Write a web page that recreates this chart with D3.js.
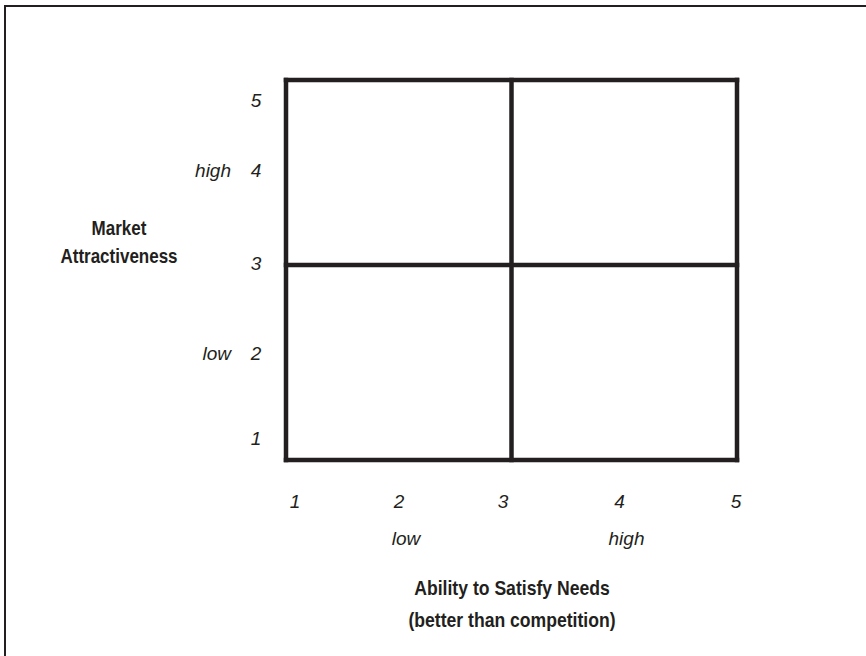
<!DOCTYPE html>
<html>
<head>
<meta charset="utf-8">
<script src="https://cdn.jsdelivr.net/npm/d3@7"></script>
<style>
  body { margin: 0; background: #fff; }
  svg { display: block; }
  .num { font-family: "Liberation Sans", Arial, sans-serif; font-style: italic; font-size: 19px; fill: #231f20; }
  .ttl { font-family: "Liberation Sans", Arial, sans-serif; font-weight: bold; font-size: 20px; fill: #231f20; }
</style>
</head>
<body>
<svg id="chart" width="866" height="656"></svg>
<script>
// chart content
const xTicks = [1, 2, 3, 4, 5];
const yTicks = [1, 2, 3, 4, 5];
const gridBreaks = [1, 3, 5];
const xLevels = [{ v: 2, label: "low" }, { v: 4, label: "high" }];
const yLevels = [{ v: 2, label: "low" }, { v: 4, label: "high" }];
const yTitle = ["Market", "Attractiveness"];
const xTitle = ["Ability to Satisfy Needs", "(better than competition)"];

const svg = d3.select("#chart");
const ink = "#231f20";

// frame round the whole figure
svg.append("rect")
  .attr("x", 5).attr("y", 6)
  .attr("width", 866).attr("height", 700)
  .attr("fill", "none").attr("stroke", ink).attr("stroke-width", 2);

// scales for the grid
var x = d3.scaleLinear().domain([1, 3, 5]).range([286, 511.5, 737]);
var y = d3.scaleLinear().domain([1, 3, 5]).range([460, 265, 80]);

// scales for the tick labels (set a bit off the grid, as in the print)
var xl = d3.scaleLinear().domain([1, 3, 5]).range([295, 503, 736]);
var yl = d3.scaleLinear().domain([1, 2, 3, 4, 5]).range([445, 360, 270, 177, 107]);

// grid: 2x2 boxes
var grid = svg.append("g")
  .attr("stroke", ink)
  .attr("stroke-width", 4.5)
  .attr("fill", "none");

grid.selectAll("line.v")
  .data(gridBreaks)
  .enter()
  .append("line")
  .attr("class", "v")
  .attr("x1", d => x(d)).attr("x2", d => x(d))
  .attr("y1", y(1) + 2.25).attr("y2", y(5) - 2.25);

grid.selectAll("line.h")
  .data(gridBreaks)
  .enter()
  .append("line")
  .attr("class", "h")
  .attr("y1", d => y(d)).attr("y2", d => y(d))
  .attr("x1", x(1) - 2.25).attr("x2", x(5) + 2.25);

// x tick labels
svg.append("g")
  .selectAll("text")
  .data(xTicks)
  .enter()
  .append("text")
  .attr("class", "num")
  .attr("x", d => xl(d))
  .attr("y", 508)
  .attr("text-anchor", "middle")
  .text(d => d);

svg.append("g")
  .selectAll("text")
  .data(xLevels)
  .enter()
  .append("text")
  .attr("class", "num")
  .attr("x", d => xl(d.v) + 7)
  .attr("y", 545)
  .attr("text-anchor", "middle")
  .text(d => d.label);

// y tick labels
svg.append("g")
  .selectAll("text")
  .data(yTicks)
  .enter()
  .append("text")
  .attr("class", "num")
  .attr("x", 256)
  .attr("y", d => yl(d))
  .attr("text-anchor", "middle")
  .text(d => d);

svg.append("g")
  .selectAll("text")
  .data(yLevels)
  .enter()
  .append("text")
  .attr("class", "num")
  .attr("x", 231)
  .attr("y", d => yl(d.v))
  .attr("text-anchor", "end")
  .text(d => d.label);

// axis titles, condensed bold
svg.append("g")
  .selectAll("text")
  .data(yTitle)
  .enter()
  .append("text")
  .attr("class", "ttl")
  .attr("text-anchor", "middle")
  .attr("transform", (d, i) => `translate(119, ${235 + i * 28}) scale(0.85, 1)`)
  .text(d => d);

svg.append("g")
  .selectAll("text")
  .data(xTitle)
  .enter()
  .append("text")
  .attr("class", "ttl")
  .attr("text-anchor", "middle")
  .attr("transform", (d, i) => `translate(512, ${595 + i * 32}) scale(0.88, 1)`)
  .text(d => d);
</script>
</body>
</html>
